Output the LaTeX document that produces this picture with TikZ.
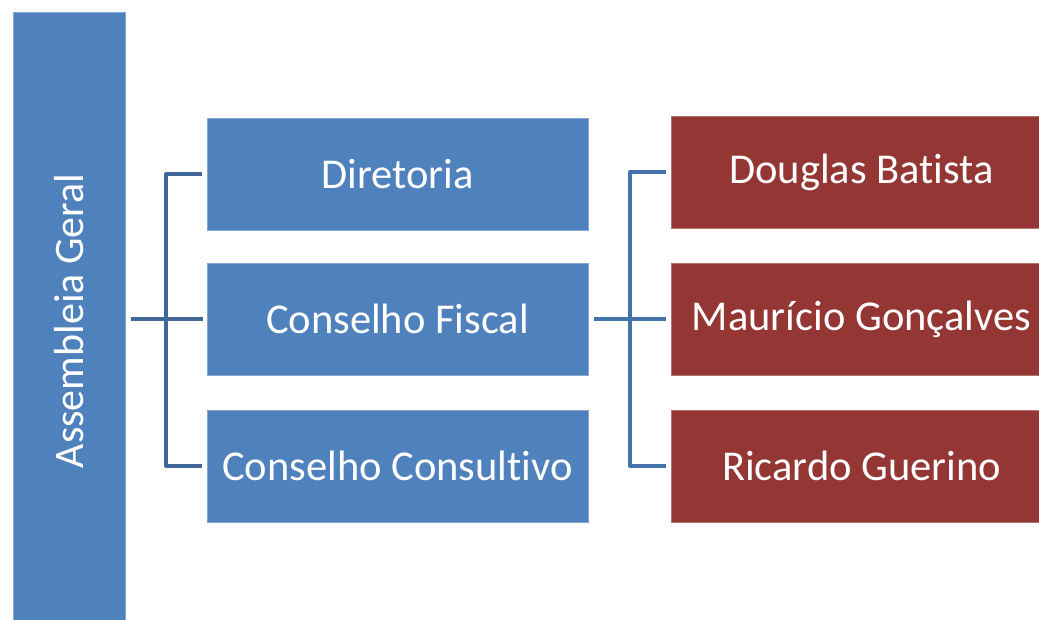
\documentclass[tikz,border=0pt]{standalone}
\usepackage{fontspec}
\setmainfont{Carlito}[Ligatures=NoCommon]
\definecolor{boxblue}{HTML}{4F81BD}
\definecolor{boxred}{HTML}{943634}
\definecolor{connL}{HTML}{3F6797}
\definecolor{connR}{HTML}{4472AA}
\begin{document}
\begin{tikzpicture}[x=1pt,y=-1pt,
  bluebox/.style={fill=boxblue,draw=boxblue!70!white,line width=0.6pt,minimum width=381pt,minimum height=112pt,inner sep=0pt,text=white,font=\fontsize{42.5}{46}\selectfont},
  redbox/.style={fill=boxred,draw=boxred!70!white,line width=0.6pt,minimum width=381pt,minimum height=112pt,inner sep=0pt,text=white,font=\fontsize{42.5}{46}\selectfont},
  connl/.style={draw=connL,line width=4pt,line join=round},
  connr/.style={draw=connR,line width=4pt,line join=round}]
\useasboundingbox (0,0) rectangle (1039,619);
\begin{scope}
\clip (0,0) rectangle (1039,619);
\node[fill=boxblue,draw=boxblue!70!white,line width=0.6pt,minimum width=112.5pt,minimum height=608pt,inner sep=0pt,anchor=north west] (ag) at (12.5,12) {};
\node[rotate=90,text=white,font=\fontsize{42}{46}\selectfont] (agt) at (68.75,321) {Assembleia Geral};
\node[bluebox] (dir) at (397.5,174) {Diretoria};
\node[bluebox] (cf) at (397.5,319) {Conselho Fiscal};
\node[bluebox] (cc) at (397.5,466) {Conselho Consultivo};
\node[redbox] (db) at (861.5,172) {Douglas Batista};
\node[redbox] (mg) at (861.5,319) {Maurício Gonçalves};
\node[redbox] (rg) at (861.5,466) {Ricardo Guerino};
\end{scope}
\coordinate (lx) at (166,0);
\coordinate (rx) at (630,0);
\draw[connl] ([xshift=5pt]ag.east |- cf.west) -- ([xshift=-4pt]cf.west);
\draw[connl] ([xshift=-5pt]dir.west) -| (lx |- cf.west) |- ([xshift=-5pt]cc.west);
\draw[connr] ([xshift=6pt]cf.east) -- ([xshift=-5pt]mg.west);
\draw[connr] ([xshift=-5pt]db.west) -| (rx |- mg.west) |- ([xshift=-5pt]rg.west);
\end{tikzpicture}
\end{document}
